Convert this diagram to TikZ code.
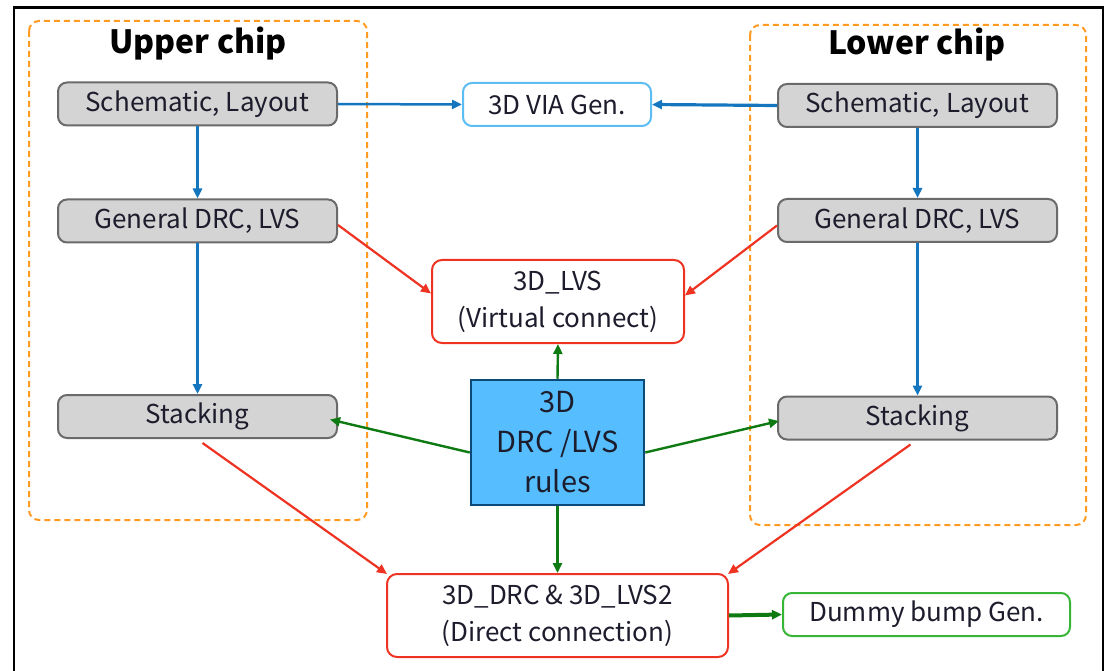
\documentclass[tikz,border=0pt]{standalone}
\usepackage{fontspec}
\setmainfont{Noto Sans CJK JP}
\usetikzlibrary{arrows.meta,calc}

\definecolor{txt}{HTML}{1C1C2C}
\definecolor{grayfill}{HTML}{D4D4D4}
\definecolor{grayline}{HTML}{6A6A6A}
\definecolor{flowblue}{HTML}{1476BE}
\definecolor{viablue}{HTML}{5CBDF2}
\definecolor{flowred}{HTML}{EE3322}
\definecolor{flowgreen}{HTML}{0E7A12}
\definecolor{bumpgreen}{HTML}{36B536}
\definecolor{chiporange}{HTML}{FF9A22}
\definecolor{rulefill}{HTML}{56BEFF}
\definecolor{ruleline}{HTML}{0B4A78}

\tikzset{
  every node/.style={text=txt, font=\fontsize{26}{37}\selectfont},
  chipbox/.style={draw=chiporange, line width=2pt, dash pattern=on 6pt off 4pt, rounded corners=10pt},
  chiptitle/.style={text=black, font=\fontsize{32}{38}\selectfont\bfseries},
  stepbox/.style={draw=grayline, fill=grayfill, line width=2pt, rounded corners=9pt,
    minimum width=279pt, minimum height=43pt, inner sep=0pt},
  checkbox/.style={draw=flowred, line width=2pt, rounded corners=10pt, align=center,
    inner sep=0pt},
  genbox/.style={line width=2pt, rounded corners=9pt, minimum height=43pt, inner sep=0pt},
  tip/.style={-{Triangle[length=10pt,width=9pt]}},
  blueflow/.style={tip, draw=flowblue, line width=2.5pt},
  redflow/.style={tip, draw=flowred, line width=2.2pt},
  greenflow/.style={tip, draw=flowgreen, line width=2.4pt},
}

\begin{document}
\begin{tikzpicture}[x=1pt,y=-1pt]
\useasboundingbox (0,0) rectangle (1109,671);

% outer frame
\draw[line width=2.5pt, black] (14,671) -- (14,7.5) -- (1103,7.5) -- (1103,671);

% chip groups
\draw[chipbox] (29,21) rectangle (367,520);
\draw[chipbox] (750,25) rectangle (1086,525);
\node[chiptitle] (uptitle) at (198,44) {Upper chip};
\node[chiptitle] (lowtitle) at (917,45) {Lower chip};

% upper chip flow
\node[stepbox] (us) at (197.5,104) {Schematic, Layout};
\node[stepbox] (ug) at (197.5,221) {General DRC, LVS};
\node[stepbox] (ust) at (197.5,416.5) {Stacking};

% lower chip flow
\node[stepbox] (ls) at (917.5,105.5) {Schematic, Layout};
\node[stepbox] (lg) at (917.5,220.5) {General DRC, LVS};
\node[stepbox] (lst) at (917.5,418) {Stacking};

% shared steps
\node[genbox, draw=viablue, minimum width=188pt] (via) at (557,104.5) {3D VIA Gen.};
\node[checkbox, minimum width=252pt, minimum height=83pt] (lvs) at (558,301.5)
  {3D\_LVS\\(Virtual connect)};
\node[draw=ruleline, fill=rulefill, line width=2.5pt, minimum width=173pt, minimum height=125pt,
  align=center, inner sep=0pt, font=\fontsize{29}{40}\selectfont] (rules) at (557.5,442.5)
  {3D\\DRC /LVS\\rules};
\node[checkbox, minimum width=341pt, minimum height=83pt] (drc) at (557.5,615.5)
  {3D\_DRC \& 3D\_LVS2\\(Direct connection)};
\node[genbox, draw=bumpgreen, minimum width=287pt] (bump) at (926.5,614.5) {Dummy bump Gen.};

% design flow within each chip
\draw[blueflow] (us.south) -- (ug.north);
\draw[blueflow] (ug.south) -- (ust.north);
\draw[blueflow] (ls.south) -- (lg.north);
\draw[blueflow] (lg.south) -- (lst.north);
\draw[blueflow] (us.east) -- (via.west);
\draw[blueflow, line width=3.2pt] (ls.west) -- (via.east);

% checks
\draw[redflow] ([yshift=-4pt]ug.east) -- ([yshift=8pt]lvs.west);
\draw[redflow] ([yshift=-5pt]lg.west) -- ([yshift=6pt]lvs.east);
\draw[redflow] ([xshift=5pt,yshift=-4pt]ust.south) -- ([xshift=1pt,yshift=-1pt]drc.north west);
\draw[redflow] ([xshift=-7pt,yshift=-4pt]lst.south) -- ([xshift=-1pt,yshift=-1pt]drc.north east);

% rule deck usage
\draw[greenflow] (rules.north) -- (lvs.south);
\draw[greenflow] (rules.south) -- (drc.north);
\draw[greenflow] ([yshift=-10pt]rules.west) -- ([xshift=-8pt,yshift=-3pt]ust.east);
\draw[greenflow] ([yshift=-10pt]rules.east) -- ([xshift=2pt,yshift=-3pt]lst.west);
\draw[greenflow, line width=4pt] (drc.east) -- (bump.west);
\end{tikzpicture}
\end{document}
